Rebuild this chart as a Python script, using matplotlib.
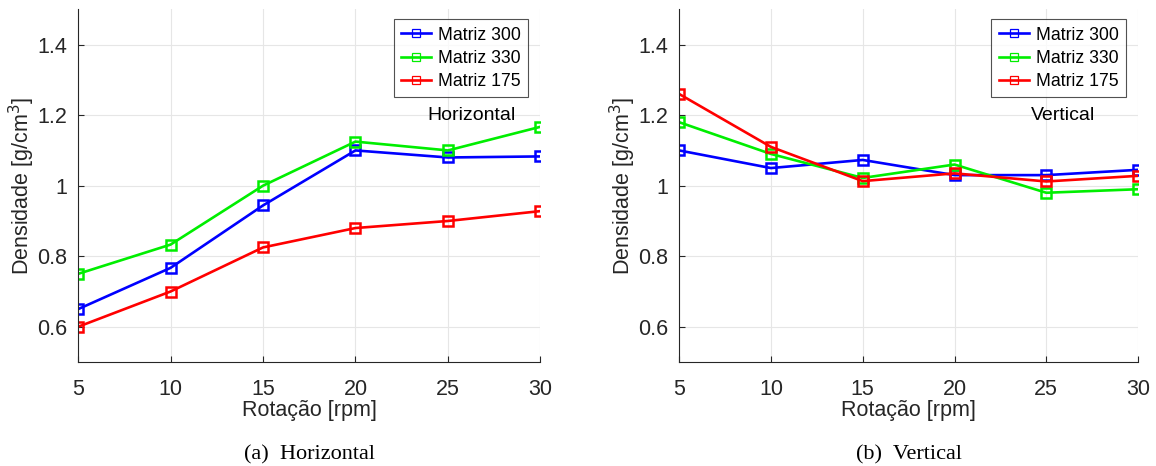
import matplotlib
matplotlib.use("Agg")
import matplotlib.pyplot as plt
from matplotlib.lines import Line2D

plt.rcParams['font.family'] = ['Liberation Sans', 'DejaVu Sans']

rotacao = [5, 10, 15, 20, 25, 30]
series_names = ["Matriz 300", "Matriz 330", "Matriz 175"]
series_colors = ["#0000ff", "#00ee00", "#ff0000"]

horiz_300 = [0.65, 0.767, 0.944, 1.100, 1.080, 1.083]
horiz_330 = [0.75, 0.833, 1.000, 1.125, 1.100, 1.167]
horiz_175 = [0.60, 0.700, 0.825, 0.880, 0.900, 0.928]

vert_300 = [1.100, 1.050, 1.073, 1.030, 1.030, 1.045]
vert_330 = [1.180, 1.090, 1.022, 1.060, 0.980, 0.990]
vert_175 = [1.260, 1.110, 1.013, 1.035, 1.012, 1.028]

yticks = [0.6, 0.8, 1.0, 1.2, 1.4]
ytick_labels = ["0.6", "0.8", "1", "1.2", "1.4"]

fig = plt.figure(figsize=(11.56, 4.66), dpi=100)
ax1 = fig.add_axes([0.0675, 0.223, 0.400, 0.757])
ax2 = fig.add_axes([0.5875, 0.223, 0.397, 0.757])

panels = [
    (ax1, [horiz_300, horiz_330, horiz_175], "Horizontal", 26.3, "(a)  Horizontal"),
    (ax2, [vert_300, vert_330, vert_175], "Vertical", 25.9, "(b)  Vertical"),
]

for ax, data, tag, tag_x, caption in panels:
    for vals, name, col in zip(data, series_names, series_colors):
        ax.plot(rotacao, vals, color=col, lw=1.9, marker='s', ms=7,
                mfc='none', mec=col, mew=1.8, label=name)
    ax.set_xlim(5, 30)
    ax.set_ylim(0.5, 1.5)
    ax.set_xticks(rotacao)
    ax.set_yticks(yticks)
    ax.set_yticklabels(ytick_labels)
    ax.grid(True, color='#e6e6e6', lw=0.8)
    ax.set_axisbelow(True)
    for s in ['top', 'right']:
        ax.spines[s].set_visible(False)
    for s in ['left', 'bottom']:
        ax.spines[s].set_color('#262626')
        ax.spines[s].set_linewidth(0.8)
    ax.tick_params(direction='in', length=4, labelsize=15.5, colors='#262626')
    ax.tick_params(axis='x', pad=12.5)
    ax.tick_params(axis='y', pad=8)
    ax.set_xlabel("Rotação [rpm]", fontsize=15.5, color='#262626', labelpad=0)
    ax.set_ylabel("Densidade [g/cm$^3$]", fontsize=15.5, color='#262626',
                  labelpad=0)
    handles = [Line2D([], [], color=col, lw=1.9, marker='s', ms=6,
                      mfc='none', mec=col, mew=0.9)
               for col in series_colors]
    leg = ax.legend(handles, series_names, loc='upper right',
                    bbox_to_anchor=(0.974, 0.972),
                    borderaxespad=0, fontsize=12.7, frameon=True, fancybox=False,
                    handlelength=1.7, borderpad=0.42, labelspacing=0.35,
                    handletextpad=0.4)
    leg.get_frame().set_edgecolor('#262626')
    leg.get_frame().set_linewidth(0.8)
    ax.text(tag_x, 1.198, tag, fontsize=14, ha='center', va='center')
    ax.text(0.5, -0.264, caption, transform=ax.transAxes, ha='center',
            va='center', fontsize=16, family=['Liberation Serif', 'DejaVu Serif'])

fig.savefig("out.png", dpi=100)
